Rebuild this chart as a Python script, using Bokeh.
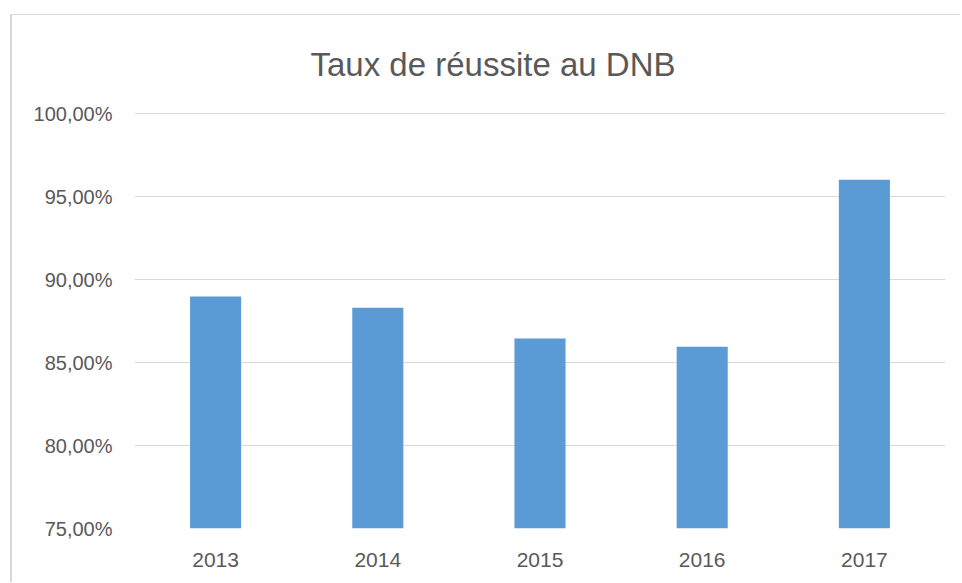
from bokeh.plotting import figure
from bokeh.models import FactorRange, Range1d, FixedTicker, ColumnDataSource
from bokeh.embed import file_html
from bokeh.resources import INLINE

years = ["2013", "2014", "2015", "2016", "2017"]
rates = [88.98, 88.31, 86.45, 85.96, 96.02]
y_ticks = [75, 80, 85, 90, 95, 100]
y_tick_labels = ["75,00%", "80,00%", "85,00%", "90,00%", "95,00%", "100,00%"]
title_text = "Taux de réussite au DNB"

FONT = "Liberation Sans"
GREY = "#595959"

src = ColumnDataSource(dict(year=years, rate=rates))

p = figure(width=950, height=568, x_range=FactorRange(*years, range_padding=0),
           y_range=Range1d(75, 100.07), output_backend="svg", toolbar_location=None,
           min_border_left=122, min_border_right=17, min_border_top=97, min_border_bottom=55,
           title=title_text)
p.margin = (14, 0, 0, 10)
p.styles = {"border-left": "2px solid #d9d9d9", "border-top": "1px solid #d9d9d9"}
p.outline_line_color = None
p.background_fill_color = "white"
p.border_fill_color = "white"

p.title.align = "left"
p.title.offset = 176
p.title.standoff = 57
p.title.vertical_align = "middle"
p.title.text_font = FONT
p.title.text_font_size = "33px"
p.title.text_font_style = "normal"
p.title.text_color = GREY

p.vbar(x="year", top="rate", bottom=75, width=0.315, source=src,
       fill_color="#5B9BD5", line_color=None)

p.yaxis.ticker = FixedTicker(ticks=y_ticks)
p.yaxis.major_label_overrides = {t: l for t, l in zip(y_ticks, y_tick_labels)}
for ax in (p.xaxis, p.yaxis):
    ax.axis_line_color = None
    ax.major_tick_line_color = None
    ax.minor_tick_line_color = None
    ax.major_tick_out = 0
    ax.major_tick_in = 0
    ax.major_label_text_font = FONT
    ax.major_label_text_color = GREY
p.yaxis.major_label_text_font_size = "20px"
p.xaxis.major_label_text_font_size = "21px"
p.yaxis.major_label_standoff = 22
p.xaxis.major_label_standoff = 24

p.xgrid.grid_line_color = None
p.ygrid.grid_line_color = "#d9d9d9"
p.ygrid.grid_line_width = 1

open("out.html", "w").write(file_html(p, INLINE))
